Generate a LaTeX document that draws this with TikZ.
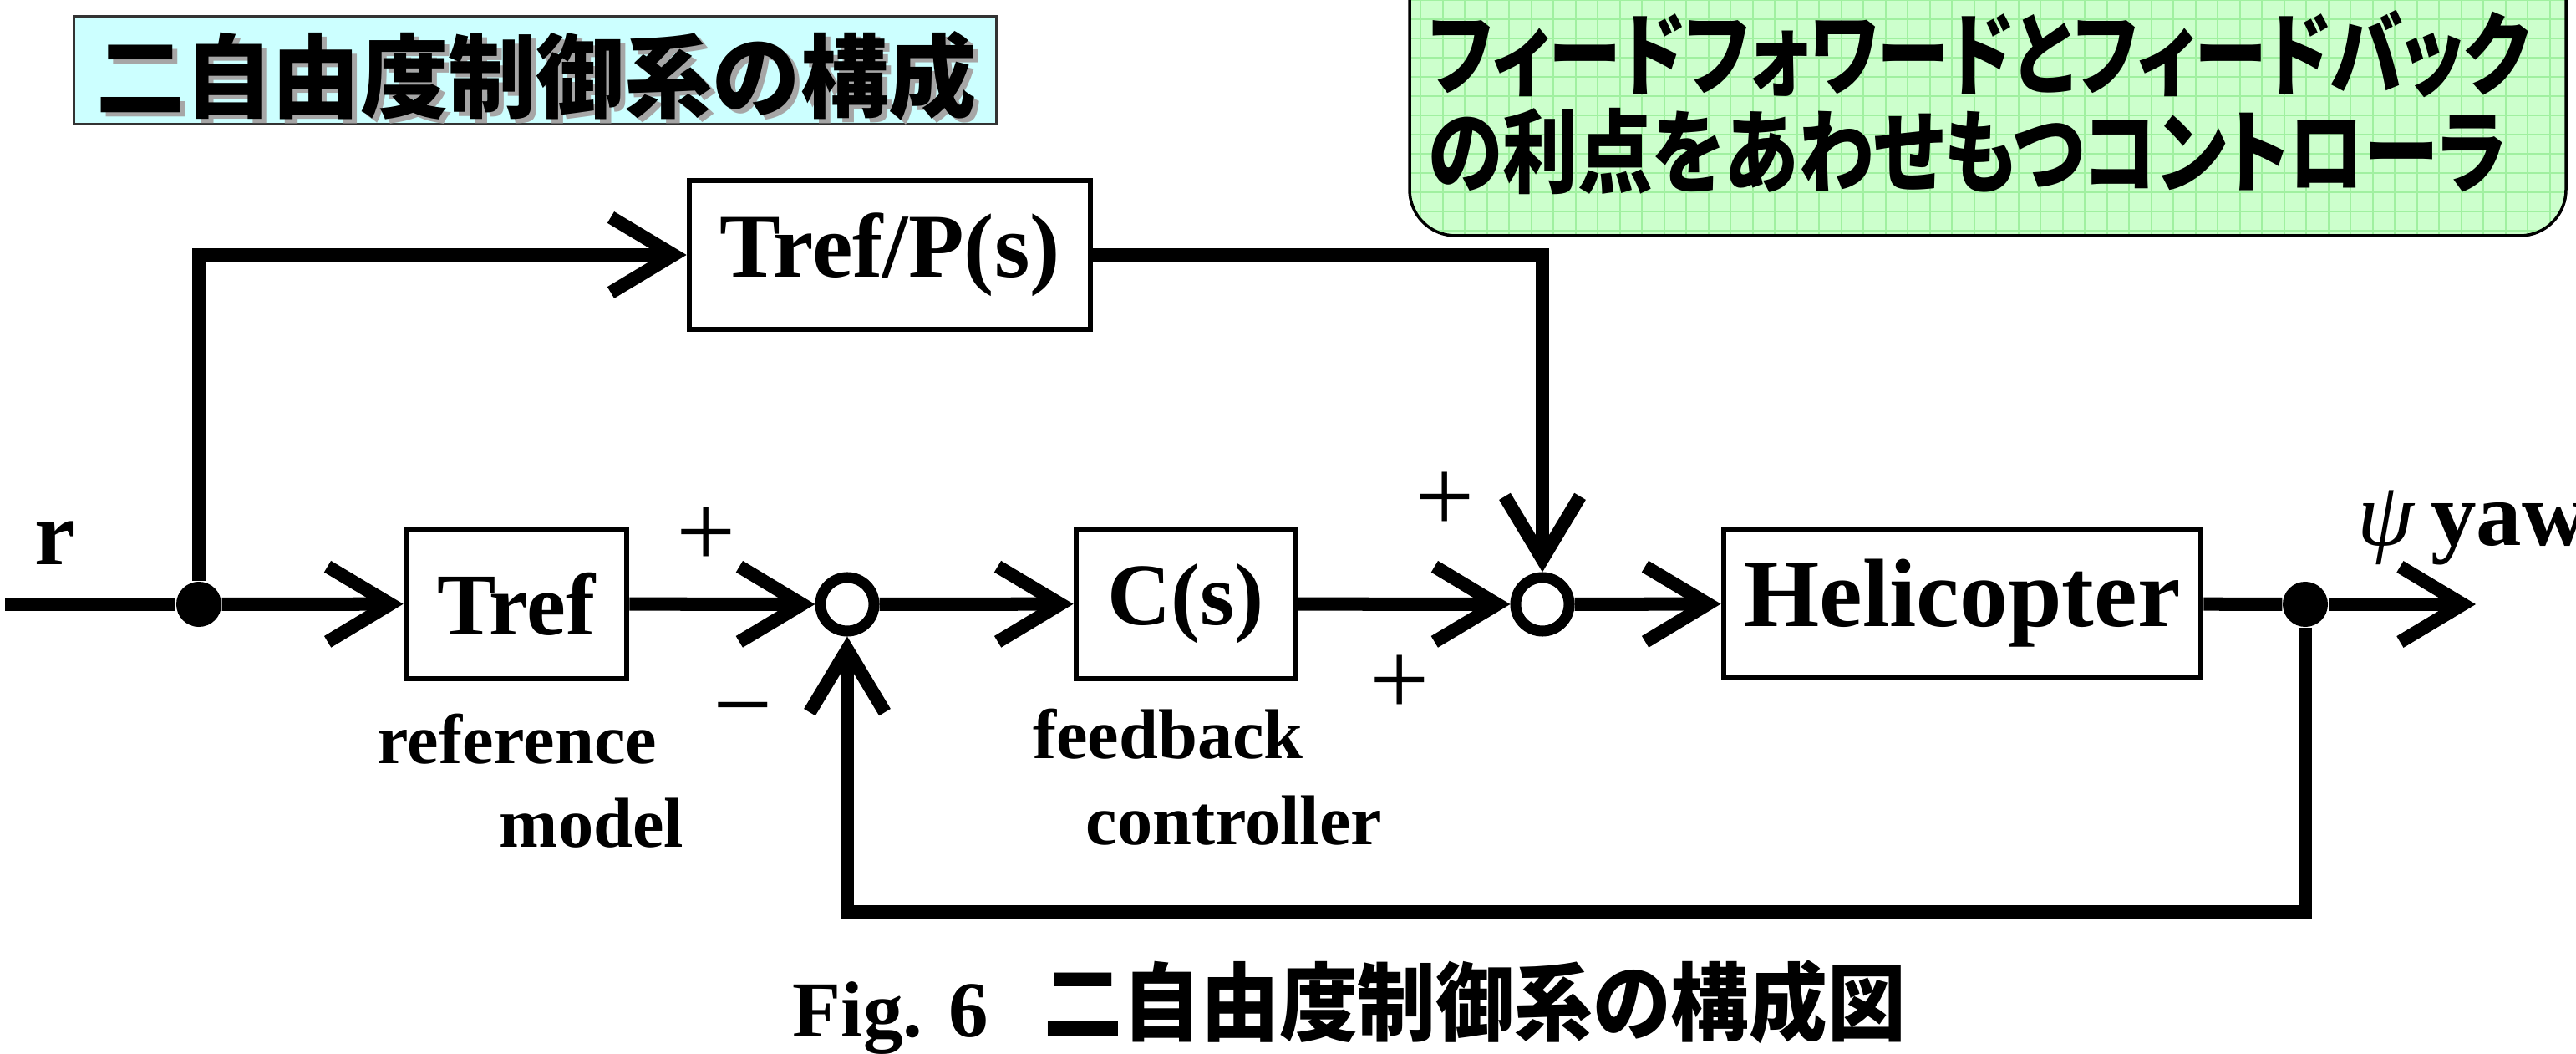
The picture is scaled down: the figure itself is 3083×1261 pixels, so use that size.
\documentclass[tikz,border=0pt]{standalone}
\usepackage{fontspec}
\setmainfont{Liberation Serif}
\newfontfamily\jp[CharacterWidth=AlternateProportional]{Noto Sans CJK JP}
\newfontfamily\jpm{Noto Sans CJK JP}
\usetikzlibrary{arrows.meta,calc}
\definecolor{titlebg}{RGB}{204,255,255}
\definecolor{notebg}{RGB}{204,255,204}
\definecolor{notegrid}{RGB}{160,240,160}
\begin{document}
\begin{tikzpicture}[x=0.01cm,y=-0.01cm,
  wire/.style={line width=0.16cm},
  arr/.style={wire,-{Straight Barb[length=0.75cm,width=0.9cm]}},
  blk/.style={draw,line width=0.065cm,inner sep=0pt,font=\fontsize{30}{30}\selectfont\bfseries},
  sumj/.style={circle,draw,line width=0.13cm,minimum size=0.64cm,inner sep=0pt,fill=white},
  dotj/.style={circle,fill,minimum size=0.54cm,inner sep=0pt},
  sgn/.style={font=\fontsize{36}{36}\selectfont,inner sep=0pt,anchor=base},
  lbl/.style={font=\fontsize{24}{24}\selectfont\bfseries,inner sep=0pt,anchor=base},
]
\useasboundingbox (0,0) rectangle (3083,1261);

% title box
\node[draw=black!80,line width=0.03cm,fill=titlebg,minimum width=11.03cm,minimum height=1.28cm,inner sep=0pt] (title) at (640.5,84) {};
\node[inner sep=0pt,text=black!35,font=\jpm\bfseries\fontsize{31}{31}\selectfont] (titlesh) at (648,96) {\resizebox{10.53cm}{\height}{二自由度制御系の構成}};
\node[inner sep=0pt,font=\jpm\bfseries\fontsize{31}{31}\selectfont] (titletx) at (642,91) {\resizebox{10.53cm}{\height}{二自由度制御系の構成}};

% note box
\begin{scope}
\path[clip,rounded corners=0.55cm] (1687,-80) rectangle (3071,282);
\fill[notebg] (1687,-80) rectangle (3071,282);
\foreach \gx in {1700,1726.5,...,3080} \draw[notegrid,line width=0.02cm] (\gx,-10) -- (\gx,290);
\foreach \gy in {0,23,...,290} \draw[notegrid,line width=0.02cm] (1680,\gy) -- (3080,\gy);
\end{scope}
\draw[line width=0.035cm,rounded corners=0.55cm] (1687,-80) rectangle (3071,282);
\node[anchor=west,inner sep=0pt,font=\jp\bfseries\fontsize{31}{31}\selectfont] (note1) at (1709,65) {\resizebox{13.17cm}{\height}{フィードフォワードとフィードバック}};
\node[anchor=west,inner sep=0pt,font=\jp\bfseries\fontsize{31}{31}\selectfont] (note2) at (1709,181) {\resizebox{12.89cm}{\height}{の利点をあわせもつコントローラ}};

% blocks
\coordinate (rin) at (6,723);
\node[dotj] (j1) at (238,723) {};
\node[blk,minimum width=2.64cm,minimum height=1.79cm] (tref) at (618,722.5) {Tref};
\node[sumj] (s1) at (1014,723) {};
\node[blk,minimum width=2.62cm,minimum height=1.79cm] (cs) at (1419,722.5) {C(s)};
\node[sumj] (s2) at (1846,723) {};
\node[blk,minimum width=5.71cm,minimum height=1.78cm,font=\fontsize{33}{33}\selectfont\bfseries] (heli) at (2348.5,722) {Helicopter};
\node[dotj] (j2) at (2759,723) {};
\coordinate (yout) at (2963,723);
\node[blk,minimum width=4.80cm,minimum height=1.78cm,font=\fontsize{31}{31}\selectfont\bfseries] (ff) at (1065,305) {Tref/P(s)};

% connectors
\draw[wire] (rin) -- (j1);
\draw[arr] (j1) -- (tref);
\draw[arr] (tref) -- (s1);
\draw[arr] (s1) -- (cs);
\draw[arr] (cs) -- (s2);
\draw[arr] (s2) -- (heli);
\draw[wire] (heli) -- (j2);
\draw[arr] (j2) -- (yout);
\draw[arr] (j1) |- (ff);
\draw[arr] (ff) -| (s2);
\draw[arr] (j2) -- ++(0,368) -| (s1);

% signs
\node[sgn] (p1) at (845,679) {+};
\node[sgn] (m1) at (889,886) {−};
\node[sgn] (p2) at (1729,637) {+};
\node[sgn] (p3) at (1675,856) {+};

% labels
\node[anchor=base west,inner sep=0pt,font=\fontsize{31}{31}\selectfont\bfseries] (rlab) at (41,676) {r};
\node[anchor=base west,inner sep=0pt,font=\fontsize{31}{31}\selectfont\bfseries] (ylab) at (2821,653) {\textmd{\textit{ψ}}\,yaw};
\node[lbl] (ref1) at (619,913) {reference};
\node[lbl] (ref2) at (708,1013) {model};
\node[lbl] (fb1) at (1398,908) {feedback};
\node[lbl] (fb2) at (1477,1010) {controller};

% caption
\node[anchor=base west,inner sep=0pt,font=\fontsize{27}{27}\selectfont\bfseries] (figl) at (948,1240) {Fig. 6};
\node[anchor=base west,inner sep=0pt,font=\jpm\bfseries\fontsize{29}{29}\selectfont] (figj) at (1249,1238) {\resizebox{10.31cm}{\height}{二自由度制御系の構成図}};
\end{tikzpicture}
\end{document}
